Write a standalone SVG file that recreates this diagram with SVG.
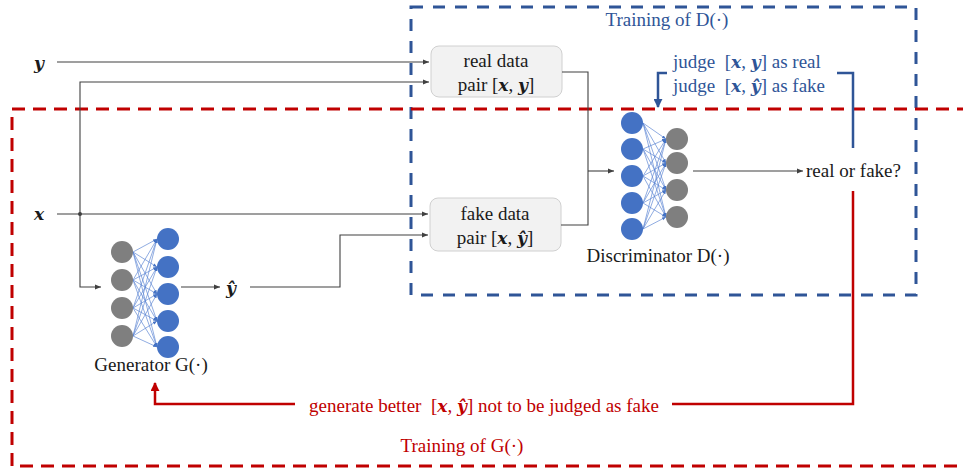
<svg xmlns="http://www.w3.org/2000/svg" width="963" height="472" viewBox="0 0 963 472">
  <defs>
    <marker id="ah" viewBox="0 0 10 10" refX="10" refY="5" markerWidth="6" markerHeight="6" orient="auto" markerUnits="userSpaceOnUse">
      <path d="M0,1 L10,5 L0,9 z" fill="#404040"/>
    </marker>
    <marker id="ahNet" viewBox="0 0 10 10" refX="10" refY="5" markerWidth="4" markerHeight="4" orient="auto" markerUnits="userSpaceOnUse">
      <path d="M0,1 L10,5 L0,9 z" fill="#4472C4"/>
    </marker>
    <marker id="ahBlue" viewBox="0 0 10 10" refX="9" refY="5" markerWidth="9" markerHeight="9" orient="auto" markerUnits="userSpaceOnUse">
      <path d="M0,0 L10,5 L0,10 z" fill="#2F5597"/>
    </marker>
    <marker id="ahRed" viewBox="0 0 10 10" refX="9" refY="5" markerWidth="9" markerHeight="9" orient="auto" markerUnits="userSpaceOnUse">
      <path d="M0,0 L10,5 L0,10 z" fill="#C00000"/>
    </marker>
  </defs>
  <style>
    .t { font-family: "Liberation Serif", "Times New Roman", serif; font-size: 19px; fill: #1a1a1a; }
    .m { font-family: "DejaVu Serif", serif; font-weight: bold; font-style: italic; font-size: 0.9em; }
    .blue { fill: #2F5597; }
    .red { fill: #C00000; }
    .conn { fill: none; stroke: #404040; stroke-width: 1.1; }
    .box { fill: #F2F2F2; stroke: #D0D0D0; stroke-width: 1; }
    .nb { fill: #4472C4; }
    .ng { fill: #7F7F7F; }
    .net { stroke: #5B84D2; stroke-width: 0.8; stroke-opacity: 0.85; marker-end: url(#ahNet); }
  </style>

  <!-- training regions -->
  <g id="region-D">
    <rect x="411" y="7" width="505" height="288" fill="none" stroke="#2F5597" stroke-width="3" stroke-dasharray="12 10"/>
    <text class="t blue" x="667" y="26" text-anchor="middle" font-size="17">Training of D(·)</text>
  </g>
  <g id="region-G">
    <path d="M970,109 H12 V466 H970" fill="none" stroke="#C00000" stroke-width="3" stroke-dasharray="13 8"/>
    <text class="t red" x="462" y="452" text-anchor="middle" font-size="18">Training of G(·)</text>
  </g>

  <!-- inputs -->
  <g id="input-y">
    <text class="t" x="39" y="69" text-anchor="middle" font-size="24"><tspan class="m">y</tspan></text>
  </g>
  <g id="input-x">
    <text class="t" x="39" y="220" text-anchor="middle" font-size="24"><tspan class="m">x</tspan></text>
  </g>

  <!-- data pairs -->
  <g id="real-pair">
    <rect class="box" x="431" y="46" width="131" height="51" rx="8"/>
    <text class="t" x="496" y="67" text-anchor="middle">real data</text>
    <text class="t" x="496" y="91" text-anchor="middle">pair [<tspan class="m">x</tspan>, <tspan class="m">y</tspan>]</text>
  </g>
  <g id="fake-pair">
    <rect class="box" x="430" y="198" width="131" height="53" rx="8"/>
    <text class="t" x="495" y="220" text-anchor="middle">fake data</text>
    <text class="t" x="495" y="244" text-anchor="middle">pair [<tspan class="m">x</tspan>, <tspan class="m">ŷ</tspan>]</text>
  </g>

  <!-- generator network -->
  <g id="generator">
    <g>
      <line class="net" x1="133" y1="252" x2="157" y2="239"/><line class="net" x1="133" y1="252" x2="157" y2="267"/><line class="net" x1="133" y1="252" x2="157" y2="294"/><line class="net" x1="133" y1="252" x2="157" y2="321"/><line class="net" x1="133" y1="252" x2="157" y2="347"/>
      <line class="net" x1="133" y1="280" x2="157" y2="239"/><line class="net" x1="133" y1="280" x2="157" y2="267"/><line class="net" x1="133" y1="280" x2="157" y2="294"/><line class="net" x1="133" y1="280" x2="157" y2="321"/><line class="net" x1="133" y1="280" x2="157" y2="347"/>
      <line class="net" x1="133" y1="308" x2="157" y2="239"/><line class="net" x1="133" y1="308" x2="157" y2="267"/><line class="net" x1="133" y1="308" x2="157" y2="294"/><line class="net" x1="133" y1="308" x2="157" y2="321"/><line class="net" x1="133" y1="308" x2="157" y2="347"/>
      <line class="net" x1="133" y1="336" x2="157" y2="239"/><line class="net" x1="133" y1="336" x2="157" y2="267"/><line class="net" x1="133" y1="336" x2="157" y2="294"/><line class="net" x1="133" y1="336" x2="157" y2="321"/><line class="net" x1="133" y1="336" x2="157" y2="347"/>
    </g>
    <circle class="ng" cx="122" cy="252" r="11"/>
    <circle class="ng" cx="122" cy="280" r="11"/>
    <circle class="ng" cx="122" cy="308" r="11"/>
    <circle class="ng" cx="122" cy="336" r="11"/>
    <circle class="nb" cx="168" cy="239" r="11"/>
    <circle class="nb" cx="168" cy="267" r="11"/>
    <circle class="nb" cx="168" cy="294" r="11"/>
    <circle class="nb" cx="168" cy="321" r="11"/>
    <circle class="nb" cx="168" cy="347" r="11"/>
    <text class="t" x="151" y="371" text-anchor="middle" font-size="15">Generator G(·)</text>
  </g>

  <g id="output-yhat">
    <text class="t" x="231" y="294" text-anchor="middle" font-size="23"><tspan class="m">ŷ</tspan></text>
  </g>

  <!-- discriminator network -->
  <g id="discriminator">
    <g>
      <line class="net" x1="643" y1="123" x2="666" y2="139"/><line class="net" x1="643" y1="123" x2="666" y2="163"/><line class="net" x1="643" y1="123" x2="666" y2="190"/><line class="net" x1="643" y1="123" x2="666" y2="217"/>
      <line class="net" x1="643" y1="149" x2="666" y2="139"/><line class="net" x1="643" y1="149" x2="666" y2="163"/><line class="net" x1="643" y1="149" x2="666" y2="190"/><line class="net" x1="643" y1="149" x2="666" y2="217"/>
      <line class="net" x1="643" y1="176" x2="666" y2="139"/><line class="net" x1="643" y1="176" x2="666" y2="163"/><line class="net" x1="643" y1="176" x2="666" y2="190"/><line class="net" x1="643" y1="176" x2="666" y2="217"/>
      <line class="net" x1="643" y1="203" x2="666" y2="139"/><line class="net" x1="643" y1="203" x2="666" y2="163"/><line class="net" x1="643" y1="203" x2="666" y2="190"/><line class="net" x1="643" y1="203" x2="666" y2="217"/>
      <line class="net" x1="643" y1="229" x2="666" y2="139"/><line class="net" x1="643" y1="229" x2="666" y2="163"/><line class="net" x1="643" y1="229" x2="666" y2="190"/><line class="net" x1="643" y1="229" x2="666" y2="217"/>
    </g>
    <circle class="nb" cx="632" cy="123" r="11"/>
    <circle class="nb" cx="632" cy="149" r="11"/>
    <circle class="nb" cx="632" cy="176" r="11"/>
    <circle class="nb" cx="632" cy="203" r="11"/>
    <circle class="nb" cx="632" cy="229" r="11"/>
    <circle class="ng" cx="677" cy="139" r="11"/>
    <circle class="ng" cx="677" cy="163" r="11"/>
    <circle class="ng" cx="677" cy="190" r="11"/>
    <circle class="ng" cx="677" cy="217" r="11"/>
    <text class="t" x="658" y="262" text-anchor="middle">Discriminator D(·)</text>
  </g>

  <g id="verdict">
    <text class="t" x="806" y="177">real or fake?</text>
  </g>

  <!-- connectors -->
  <g id="connectors">
    <path class="conn" d="M57,62 H429" style="marker-end:url(#ah)"/>
    <path class="conn" d="M80,214 V82 H429" style="marker-end:url(#ah)"/>
    <path class="conn" d="M57,214 H428" style="marker-end:url(#ah)"/>
    <circle cx="80" cy="214" r="2" fill="#404040"/>
    <path class="conn" d="M80,214 V287 H101" style="marker-end:url(#ah)"/>
    <path class="conn" d="M181,287 H220" style="marker-end:url(#ah)"/>
    <path class="conn" d="M250,287 H340 V235 H428" style="marker-end:url(#ah)"/>
    <path class="conn" d="M562,72 H588 V225 H561"/>
    <path class="conn" d="M588,171 H614" style="marker-end:url(#ah)"/>
    <path class="conn" d="M693,171 H803" style="marker-end:url(#ah)"/>

    <!-- discriminator feedback -->
    <path d="M853,148 V73 H837" fill="none" stroke="#2F5597" stroke-width="2.5"/>
    <path d="M667,73 H658 V107" fill="none" stroke="#2F5597" stroke-width="2.5" marker-end="url(#ahBlue)"/>
    <text class="t blue" x="673" y="68">judge&#160; [<tspan class="m">x</tspan>, <tspan class="m">y</tspan>] as real</text>
    <text class="t blue" x="673" y="92">judge&#160; [<tspan class="m">x</tspan>, <tspan class="m">ŷ</tspan>] as fake</text>

    <!-- generator feedback -->
    <path d="M853,191 V404 H672" fill="none" stroke="#C00000" stroke-width="2.5"/>
    <path d="M295,404 H155 V383" fill="none" stroke="#C00000" stroke-width="2.5" marker-end="url(#ahRed)"/>
    <text class="t red" x="484" y="412" text-anchor="middle">generate better&#160; [<tspan class="m">x</tspan>, <tspan class="m">ŷ</tspan>] not to be judged as fake</text>
  </g>
</svg>
